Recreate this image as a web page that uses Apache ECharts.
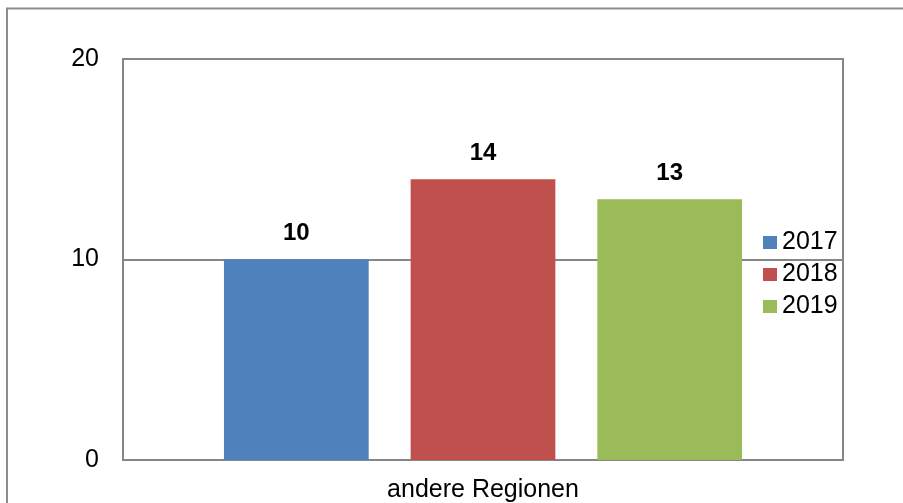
<!DOCTYPE html>
<html><head><meta charset="utf-8">
<script src="https://cdn.jsdelivr.net/npm/echarts@6/dist/echarts.min.js"></script>
<style>html,body{margin:0;padding:0;background:#fff}#c{width:903px;height:503px}</style>
</head><body><div id="c"></div>
<script>
const categories = ['andere Regionen'];
const seriesNames = ['2017', '2018', '2019'];
const values2017 = [10];
const values2018 = [14];
const values2019 = [13];
const yTicks = [0, 10, 20];
const colors = ['#4F81BD', '#C0504D', '#9BBB59'];
const font = 'Liberation Sans, Arial, sans-serif';
const chart = echarts.init(document.getElementById('c'));
const data = [values2017, values2018, values2019];
chart.setOption({
  animation: false,
  textStyle: {fontFamily: font},
  graphic: [{type: 'rect', shape: {x: 7, y: 8.5, width: 1000, height: 1000}, style: {fill: 'none', stroke: '#8c8c8c', lineWidth: 2}, z: -1}],
  grid: {left: 123, top: 59, right: 60, bottom: 42, show: true, borderColor: '#868686', borderWidth: 2, backgroundColor: 'transparent'},
  legend: {orient: 'vertical', left: 758, top: 223, itemWidth: 14, itemHeight: 13, itemGap: 3, icon: 'rect',
    textStyle: {fontSize: 25, lineHeight: 29, color: '#000', fontFamily: font}, data: seriesNames},
  xAxis: {type: 'category', data: categories, axisTick: {show: false},
    axisLine: {lineStyle: {color: '#868686', width: 2}},
    axisLabel: {fontSize: 25, color: '#000', margin: 18, fontFamily: font}},
  yAxis: {type: 'value', min: yTicks[0], max: yTicks[yTicks.length - 1], interval: 10,
    axisLine: {show: true, lineStyle: {color: '#868686', width: 2}}, axisTick: {show: false},
    splitLine: {lineStyle: {color: '#868686', width: 2}},
    axisLabel: {fontSize: 25, color: '#000', margin: 24, fontFamily: font}},
  series: seriesNames.map((n, i) => ({
    name: n, type: 'bar', data: data[i], barWidth: '20.1%', barGap: '29%',
    itemStyle: {color: colors[i]},
    label: {show: true, position: 'top', distance: 14, fontSize: 24, fontWeight: 'bold', color: '#000', fontFamily: font}
  }))
});
</script></body></html>
